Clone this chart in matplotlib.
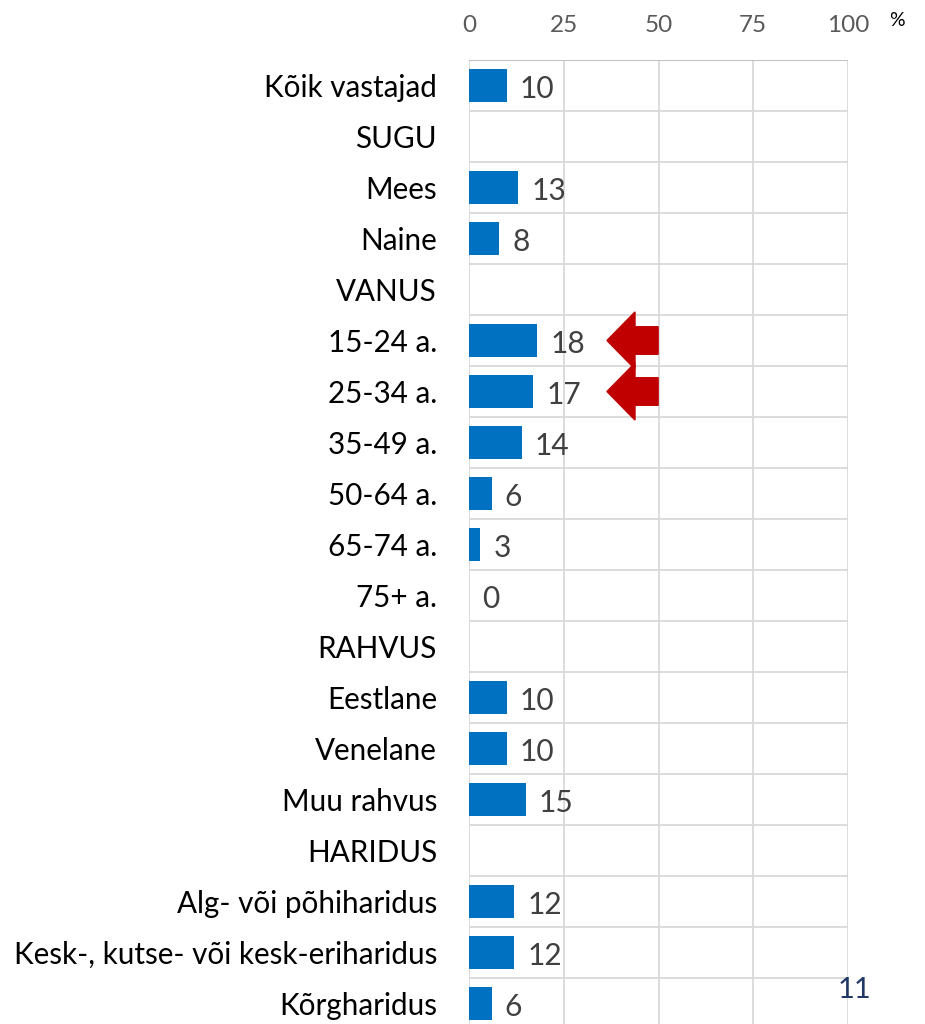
import matplotlib
matplotlib.use("Agg")
import matplotlib.pyplot as plt
from matplotlib.patches import Polygon

categories = ["Kõik vastajad", "SUGU", "Mees", "Naine", "VANUS", "15-24 a.", "25-34 a.",
              "35-49 a.", "50-64 a.", "65-74 a.", "75+ a.", "RAHVUS", "Eestlane", "Venelane",
              "Muu rahvus", "HARIDUS", "Alg- või põhiharidus",
              "Kesk-, kutse- või kesk-eriharidus", "Kõrgharidus"]
values = [10, None, 13, 8, None, 18, 17, 14, 6, 3, 0, None, 10, 10, 15, None, 12, 12, 6]
xticks = [0, 25, 50, 75, 100]
highlight = ["15-24 a.", "25-34 a."]

plt.rcParams['font.family'] = ['Lato', 'DejaVu Sans']

W, H = 925, 1024
fig = plt.figure(figsize=(W / 100, H / 100), dpi=100)
left, right, top, bottom = 469, 848, 60, 1029
ax = fig.add_axes([left / W, (H - bottom) / H, (right - left) / W, (bottom - top) / H])

n = len(categories)
ys = list(range(n))
bar_color = "#0070C0"
for y, v in zip(ys, values):
    if v is None:
        continue
    ax.barh(y, v, height=0.63, color=bar_color, zorder=3)
    ax.text(v + 3.4, y + 0.06, f"{v}", va="center", ha="left", fontsize=21.5,
            color="#404040", zorder=4)

ax.set_xlim(0, 100)
ax.set_ylim(n - 0.5, -0.5)
ax.set_yticks(ys)
ax.set_yticklabels(categories, fontsize=21.3, color="black")
ax.tick_params(axis="y", length=0, pad=23)
ax.xaxis.tick_top()
ax.set_xticks(xticks)
ax.set_xticklabels([str(t) for t in xticks], fontsize=17.5, color="#595959")
ax.tick_params(axis="x", length=0, pad=17)

grid_c = "#D9D9D9"
for t in xticks:
    ax.axvline(t, color=grid_c, lw=1.3, zorder=1)
for b in range(n + 1):
    ax.axhline(b - 0.5, color=grid_c, lw=1.3, zorder=1)
for s in ax.spines.values():
    s.set_visible(False)
ax.axhline(-0.5, color="#BFBFBF", lw=1.3, zorder=2)

# red arrows pointing at highlighted rows
for name in highlight:
    yc = categories.index(name)
    tip, hb, tail = 36.4, 43.8, 49.9
    hh, bh = 0.56, 0.27
    pts = [(tip, yc), (hb, yc - hh), (hb, yc - bh), (tail, yc - bh),
           (tail, yc + bh), (hb, yc + bh), (hb, yc + hh)]
    ax.add_patch(Polygon(pts, closed=True, color="#C00000", zorder=5, clip_on=False))

fig.text(897 / W, 1 - 20 / H, "%", fontsize=14, color="black", ha="center", va="center")
fig.text(855 / W, 1 - 990 / H, "11", fontsize=21, color="#1F3864", ha="center", va="center")
fig.text(640 / W, 1 + 14 / H, ")", fontsize=15, color="#404040", ha="center", va="center")

fig.savefig("out.png", dpi=100)
